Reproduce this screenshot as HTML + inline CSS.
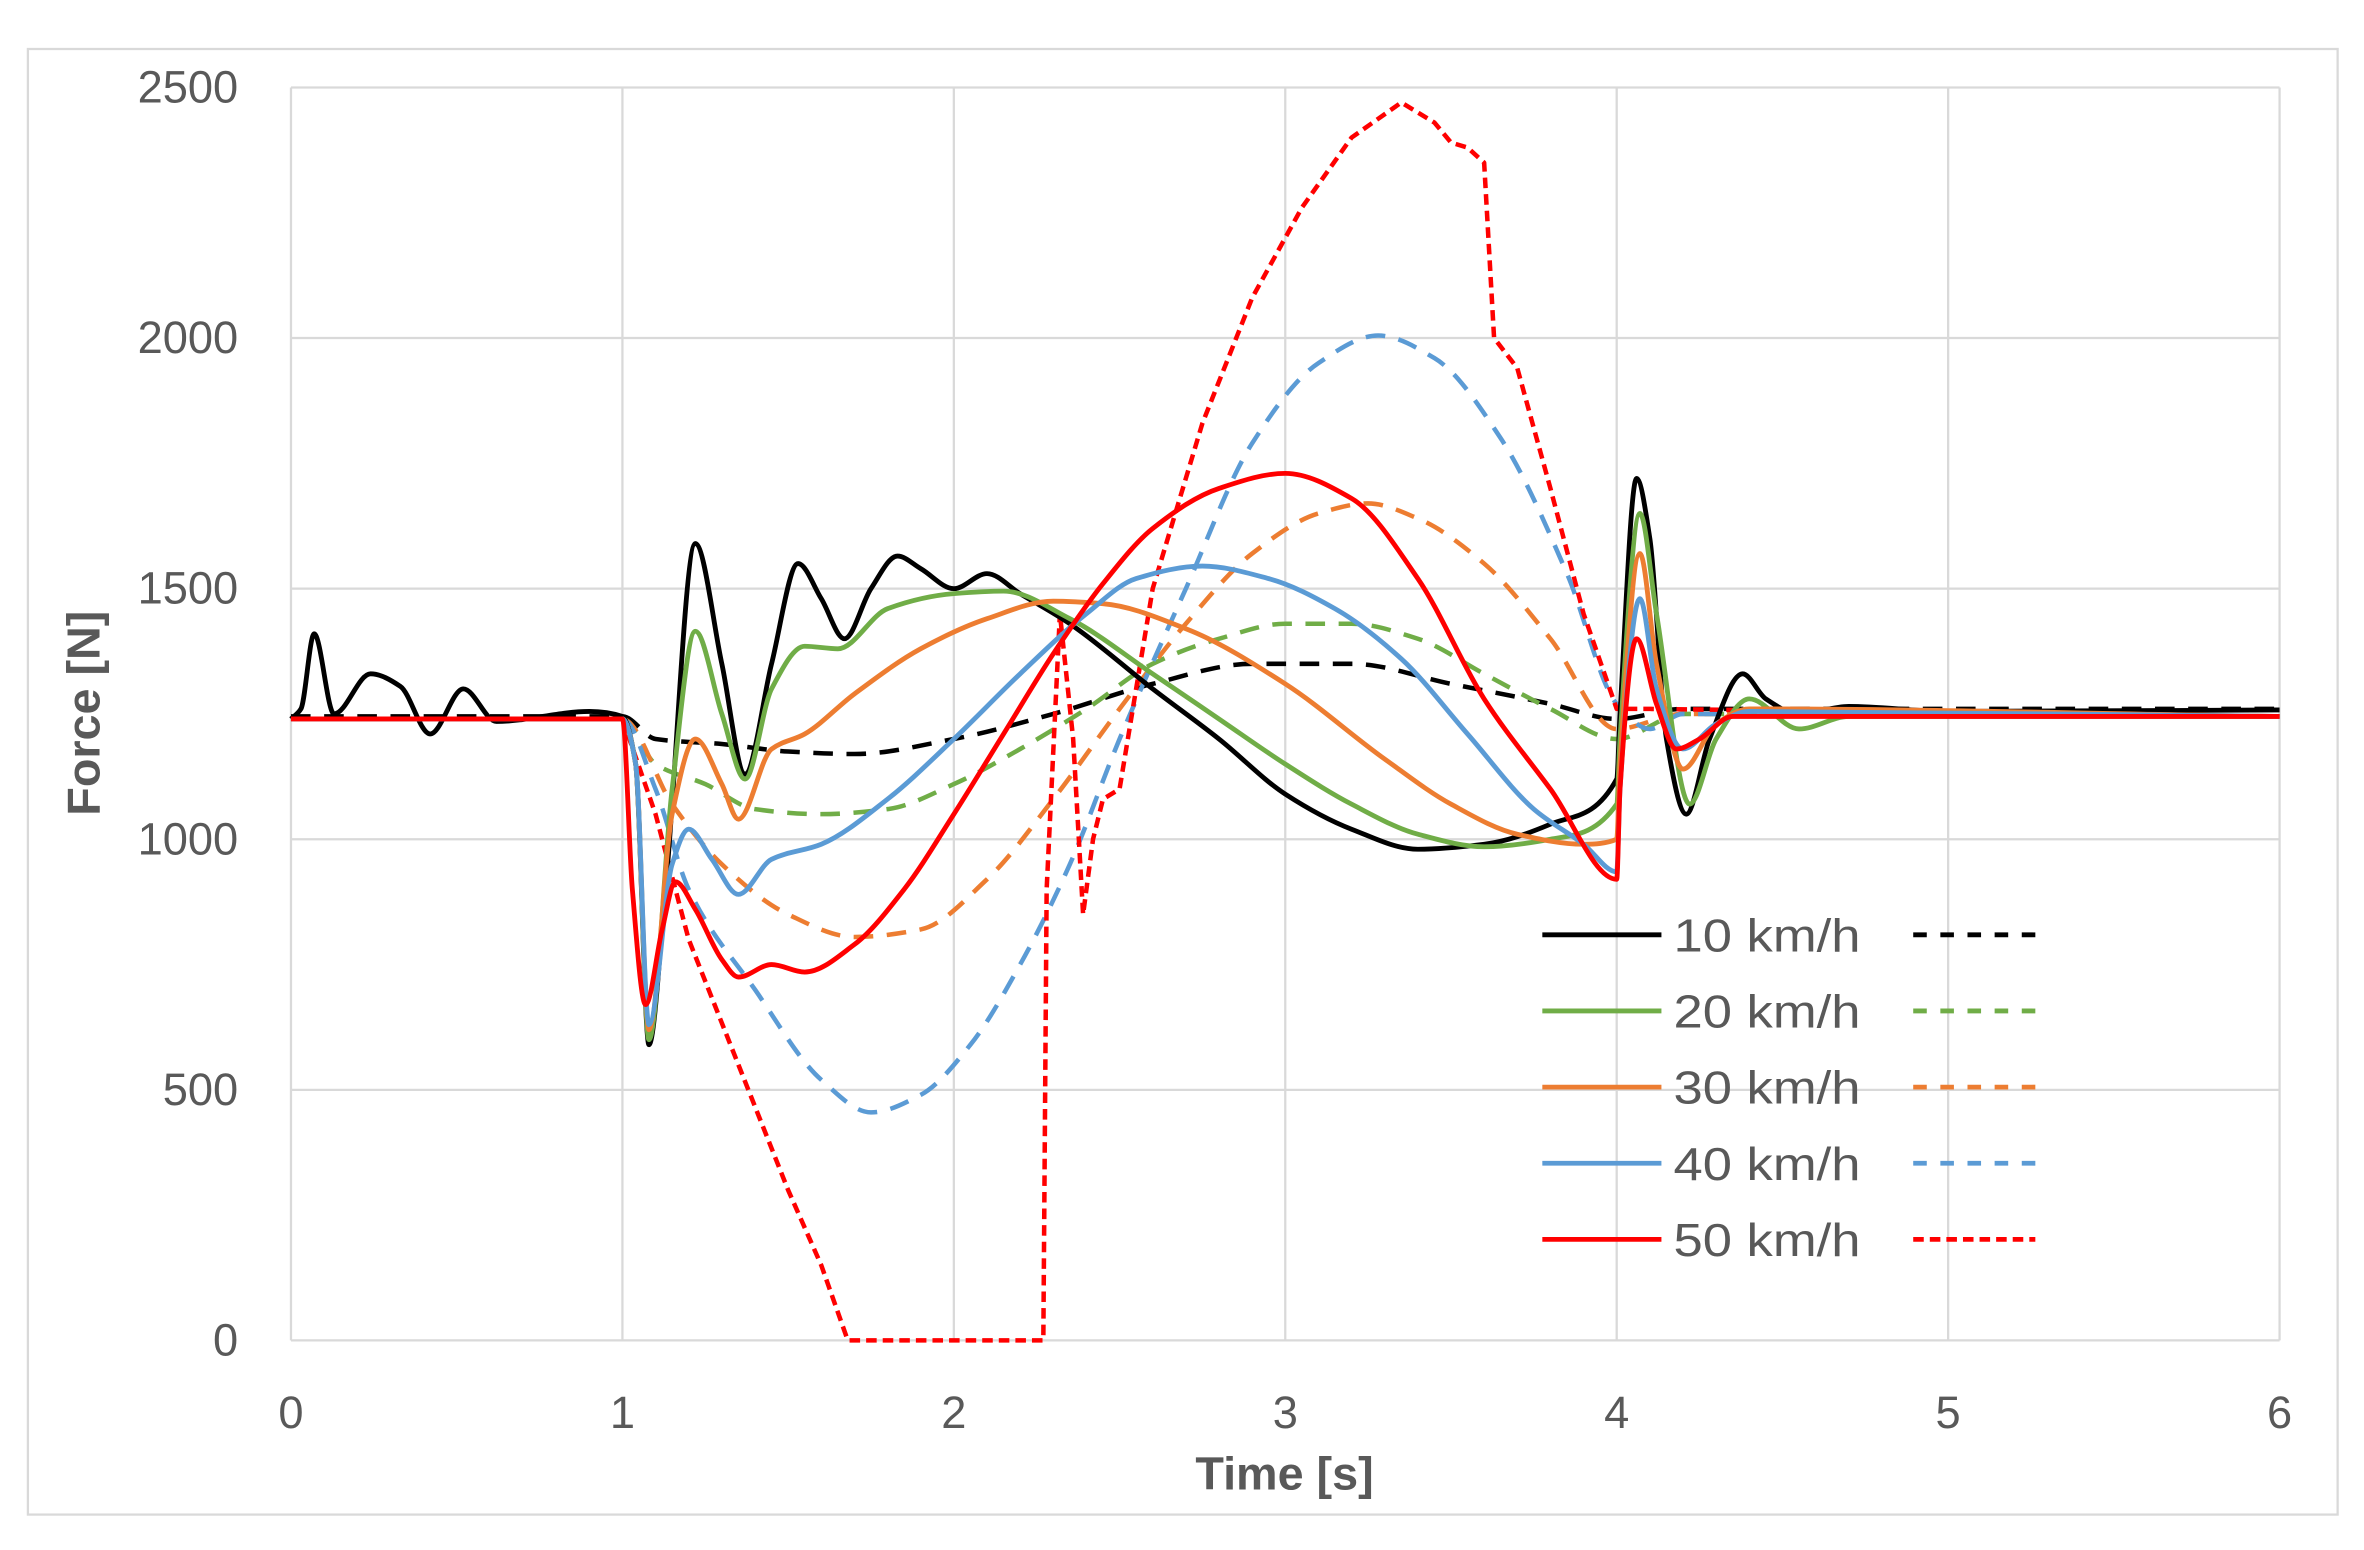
<!DOCTYPE html>
<html><head><meta charset="utf-8"><style>
html,body{margin:0;padding:0;background:#fff;}
svg{display:block;}
text{font-family:"Liberation Sans",sans-serif;fill:#595959;}
</style></head><body>
<svg id="chart" width="2364" height="1550" viewBox="0 0 1568 1028" preserveAspectRatio="none" xmlns="http://www.w3.org/2000/svg">
<rect x="18.5" y="32.5" width="1532" height="972" fill="#fff" stroke="#d9d9d9" stroke-width="1.5"/>
<g id="grid"></g>
<g id="ticks"></g>
<g id="series"></g>
<text x="0" y="0" transform="translate(66,473) rotate(-90)" text-anchor="middle" font-size="31" font-weight="bold">Force [N]</text>
<text x="852" y="988" text-anchor="middle" font-size="31" font-weight="bold">Time [s]</text>
<g id="legend"></g>
</svg>
<script>
const xTicks=[0,1,2,3,4,5,6];
const yTicks=[0,500,1000,1500,2000,2500];
const seriesNames=["10 km/h","20 km/h","30 km/h","40 km/h","50 km/h"];
const seriesColors=["#000000","#70ad47","#ed7d31","#5b9bd5","#ff0000"];
const t10s=[0,0.03,0.07,0.13,0.24,0.33,0.42,0.52,0.62,0.9,1.0,1.04,1.08,1.13,1.22,1.3,1.37,1.45,1.53,1.6,1.67,1.75,1.83,1.9,2.0,2.1,2.2,2.35,2.6,2.8,3.0,3.2,3.4,3.6,3.8,4.0,4.01,4.06,4.1,4.15,4.21,4.28,4.38,4.45,4.55,4.7,5,6];
const v10s=[1240,1260,1410,1250,1330,1305,1210,1300,1235,1255,1245,1150,590,900,1590,1350,1130,1350,1550,1480,1400,1500,1565,1540,1500,1530,1490,1430,1300,1200,1090,1020,980,990,1030,1120,1250,1720,1600,1200,1050,1200,1330,1280,1250,1265,1255,1258];
const t10d=[0,1.0,1.1,1.3,1.5,1.7,2.0,2.3,2.6,2.9,3.2,3.5,3.8,4.0,4.2,5,6];
const v10d=[1245,1245,1200,1190,1175,1170,1200,1250,1310,1350,1350,1310,1270,1240,1260,1260,1260];
const t20s=[0,1.0,1.04,1.08,1.15,1.22,1.3,1.37,1.45,1.55,1.65,1.8,2.0,2.15,2.35,2.6,2.8,3.0,3.2,3.4,3.6,3.8,4.0,4.01,4.07,4.12,4.22,4.3,4.4,4.55,4.7,6];
const v20s=[1240,1240,1150,600,1100,1415,1250,1120,1300,1385,1380,1460,1490,1495,1440,1330,1240,1150,1070,1010,985,1000,1070,1200,1650,1450,1070,1200,1280,1220,1245,1245];
const t20d=[0,1.0,1.1,1.25,1.4,1.6,1.8,2.0,2.2,2.4,2.6,2.8,3.0,3.2,3.4,3.6,3.8,4.0,4.2,6];
const v20d=[1240,1240,1150,1110,1060,1050,1060,1110,1180,1260,1350,1400,1430,1430,1400,1330,1260,1200,1250,1245];
const t30s=[0,1.0,1.04,1.08,1.15,1.22,1.3,1.35,1.45,1.55,1.7,1.9,2.1,2.3,2.45,2.7,3.0,3.3,3.5,3.7,3.9,4.0,4.01,4.07,4.12,4.2,4.3,4.4,6];
const v30s=[1240,1240,1150,620,1050,1200,1110,1040,1180,1210,1290,1380,1440,1475,1470,1420,1310,1160,1070,1010,990,1000,1150,1570,1350,1140,1230,1260,1245];
const t30d=[0,1.0,1.15,1.3,1.5,1.7,1.9,2.1,2.3,2.5,2.7,2.9,3.1,3.25,3.4,3.6,3.8,4.0,4.2,6];
const v30d=[1240,1240,1070,950,850,805,820,920,1080,1260,1430,1570,1650,1670,1640,1550,1400,1220,1250,1245];
const t40s=[0,1.0,1.04,1.08,1.15,1.2,1.27,1.35,1.45,1.6,1.8,2.0,2.2,2.4,2.55,2.75,2.95,3.15,3.35,3.55,3.75,3.9,4.0,4.01,4.07,4.12,4.2,4.3,4.4,6];
const v40s=[1240,1240,1150,630,950,1020,960,890,960,990,1080,1200,1330,1450,1520,1545,1520,1460,1360,1210,1060,990,935,1100,1480,1300,1180,1230,1255,1245];
const t40d=[0,1.0,1.1,1.2,1.4,1.6,1.75,1.9,2.05,2.2,2.35,2.5,2.7,2.9,3.1,3.28,3.45,3.65,3.85,4.0,4.1,4.2,6];
const v40d=[1240,1240,1100,900,700,520,455,490,590,750,950,1200,1500,1790,1950,2005,1960,1800,1530,1270,1220,1250,1245];
const t50s=[0,1.0,1.03,1.07,1.12,1.16,1.22,1.3,1.35,1.45,1.55,1.7,1.85,2.0,2.15,2.3,2.45,2.6,2.8,3.0,3.2,3.4,3.6,3.8,4.0,4.01,4.06,4.12,4.18,4.25,4.35,6];
const v50s=[1240,1240,900,670,820,915,860,760,725,750,735,790,900,1050,1210,1370,1510,1620,1700,1730,1680,1520,1280,1100,920,1100,1400,1270,1180,1200,1245,1245];
const t50d=[0,1.0,1.1,1.2,1.35,1.5,1.6,1.68,2.27,2.28,2.32,2.36,2.39,2.42,2.45,2.5,2.6,2.75,2.9,3.05,3.2,3.35,3.45,3.5,3.55,3.6,3.63,3.7,3.8,3.9,4.0,4.1,6];
const v50d=[1240,1240,1050,800,550,300,150,0,0,900,1450,1200,850,1000,1080,1100,1500,1830,2080,2260,2400,2470,2430,2390,2380,2350,2000,1940,1700,1450,1260,1260,1245];

const X0=193,X1=1512,Y0=889,Y1=58;
const sx=t=>X0+(X1-X0)*t/6;
const sy=v=>Y0-(Y0-Y1)*v/2500;
const NS="http://www.w3.org/2000/svg";
function mk(tag,parent,attrs){const e=document.createElementNS(NS,tag);for(const k in attrs)e.setAttribute(k,attrs[k]);parent.appendChild(e);return e;}
const grid=document.getElementById('grid'),ticks=document.getElementById('ticks'),ser=document.getElementById('series'),leg=document.getElementById('legend');
yTicks.forEach(v=>{
  const l=mk('line',grid,{x1:X0,x2:X1,y1:sy(v),y2:sy(v),stroke:'#d9d9d9','stroke-width':1.5});
  
  
  const t=mk('text',ticks,{x:158,y:sy(v)+10,'text-anchor':'end','font-size':30});
  t.textContent=v;
  
  
});
xTicks.forEach(v=>{
  const l=mk('line',grid,{x1:sx(v),x2:sx(v),y1:Y1,y2:Y0,stroke:'#d9d9d9','stroke-width':1.5});
  
  
  const t=mk('text',ticks,{x:sx(v),y:947,'text-anchor':'middle','font-size':30});
  t.textContent=v;
  
  
});
function smooth(ts,vs){
  const x=ts.map(sx),y=vs.map(sy),n=x.length;
  const d=[],m=new Array(n).fill(0);
  for(let i=0;i<n-1;i++)d.push((y[i+1]-y[i])/(x[i+1]-x[i]));
  m[0]=d[0];m[n-1]=d[n-2];
  for(let i=1;i<n-1;i++){
    if(d[i-1]*d[i]<=0)m[i]=0;
    else{const h0=x[i]-x[i-1],h1=x[i+1]-x[i];const w1=2*h1+h0,w2=h1+2*h0;m[i]=(w1+w2)/(w1/d[i-1]+w2/d[i]);}
  }
  let s='M'+x[0]+','+y[0];
  for(let i=0;i<n-1;i++){
    const h=(x[i+1]-x[i])/3;
    s+=' C'+(x[i]+h)+','+(y[i]+m[i]*h)+' '+(x[i+1]-h)+','+(y[i+1]-m[i+1]*h)+' '+x[i+1]+','+y[i+1];
  }
  return s;
}
function linear(ts,vs){return ts.map((t,i)=>(i?'L':'M')+sx(t)+','+sy(vs[i])).join(' ');}
const dashed=[[t10d,v10d],[t20d,v20d],[t30d,v30d],[t40d,v40d],[t50d,v50d]];
const solid=[[t10s,v10s],[t20s,v20s],[t30s,v30s],[t40s,v40s],[t50s,v50s]];
dashed.forEach((s,i)=>{
  const p=mk('path',ser,{d:i==4?linear(s[0],s[1]):smooth(s[0],s[1]),fill:'none',stroke:seriesColors[i],'stroke-width':3,'stroke-dasharray':i==4?'7,4':'13,9','stroke-linejoin':'round'});
  
  
});
solid.forEach((s,i)=>{
  const p=mk('path',ser,{d:smooth(s[0],s[1]),fill:'none',stroke:seriesColors[i],'stroke-width':3.2,'stroke-linejoin':'round'});
  
  
});
seriesNames.forEach((n,i)=>{
  const y=620+i*50.5;
  const g=mk('g',leg,{});
  
  
  mk('line',g,{x1:1023,x2:1102,y1:y,y2:y,stroke:seriesColors[i],'stroke-width':3.2});
  const t=mk('text',g,{x:1110,y:y+11,'font-size':31,textLength:124,lengthAdjust:'spacingAndGlyphs'});
  t.textContent=n;
  mk('line',g,{x1:1269,x2:1350,y1:y,y2:y,stroke:seriesColors[i],'stroke-width':3.2,'stroke-dasharray':i==4?'7,4':'9,9'});
});
</script>
</body></html>
